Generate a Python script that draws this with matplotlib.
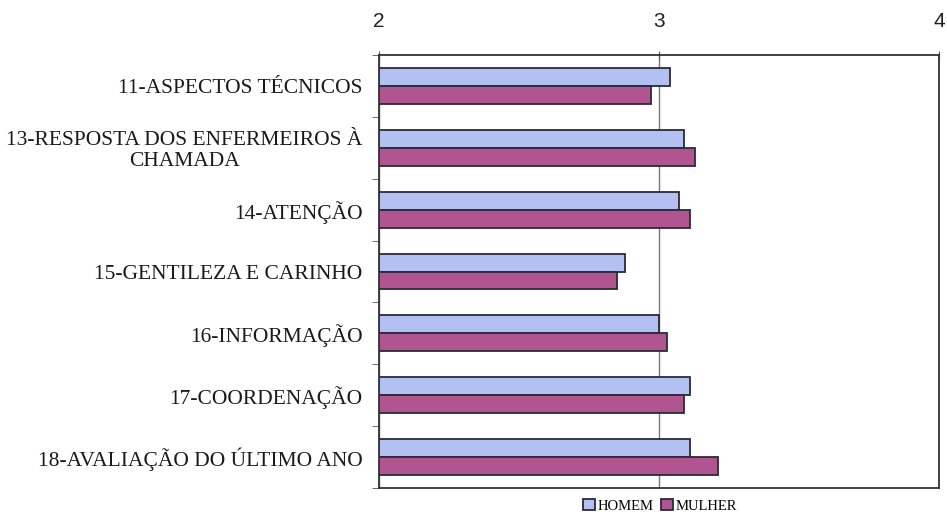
import matplotlib
matplotlib.use("Agg")
import matplotlib.pyplot as plt
import numpy as np

categories = [
    "11-ASPECTOS TÉCNICOS",
    "13-RESPOSTA DOS ENFERMEIROS À\nCHAMADA",
    "14-ATENÇÃO",
    "15-GENTILEZA E CARINHO",
    "16-INFORMAÇÃO",
    "17-COORDENAÇÃO",
    "18-AVALIAÇÃO DO ÚLTIMO ANO",
]
homem = [3.04, 3.09, 3.07, 2.88, 3.00, 3.11, 3.11]
mulher = [2.97, 3.13, 3.11, 2.85, 3.03, 3.09, 3.21]
xticks = [2, 3, 4]

fig = plt.figure(figsize=(9.47, 5.15), dpi=100)
ax = fig.add_axes([0.4002, 0.0524, 0.5913, 0.8408])

n = len(categories)
pos = np.arange(n)
h = 0.29
base = 2
ax.barh(pos - h / 2, np.array(homem) - base, left=base, height=h,
        color="#b3c1f2", edgecolor="#2a2a3a", linewidth=1.3, label="HOMEM")
ax.barh(pos + h / 2, np.array(mulher) - base, left=base, height=h,
        color="#b0558f", edgecolor="#2a2a3a", linewidth=1.3, label="MULHER")

ax.set_xlim(2, 4)
ax.set_ylim(n - 0.5, -0.5)
ax.xaxis.tick_top()
ax.set_xticks(xticks)
ax.set_xticklabels([str(t) for t in xticks], fontfamily="Liberation Sans",
                   fontsize=15, color="#222222")
ax.tick_params(axis="x", direction="inout", length=6, pad=14, color="#555555")
ax.grid(axis="x", color="#777777", linewidth=1.0)
ax.set_axisbelow(True)

ax.set_yticks(pos)
ax.set_yticklabels(categories, fontfamily="Liberation Serif", fontsize=15.5,
                   color="#1a1a1a", multialignment="center", linespacing=1.15)
ax.tick_params(axis="y", length=0, pad=12)
ax.set_yticks(np.arange(n + 1) - 0.5, minor=True)
ax.tick_params(axis="y", which="minor", length=5, direction="out", color="#555555")

for s in ax.spines.values():
    s.set_color("#333333")
    s.set_linewidth(1.3)

handles, labels = ax.get_legend_handles_labels()
fig.legend(handles, labels, loc="center", bbox_to_anchor=(0.697, 0.0175), ncol=2,
           frameon=False, prop={"family": "Liberation Serif", "size": 10.5},
           handlelength=0.8, handleheight=0.8, handletextpad=0.2,
           columnspacing=0.5, borderpad=0.1)

fig.savefig("out.png", dpi=100)
